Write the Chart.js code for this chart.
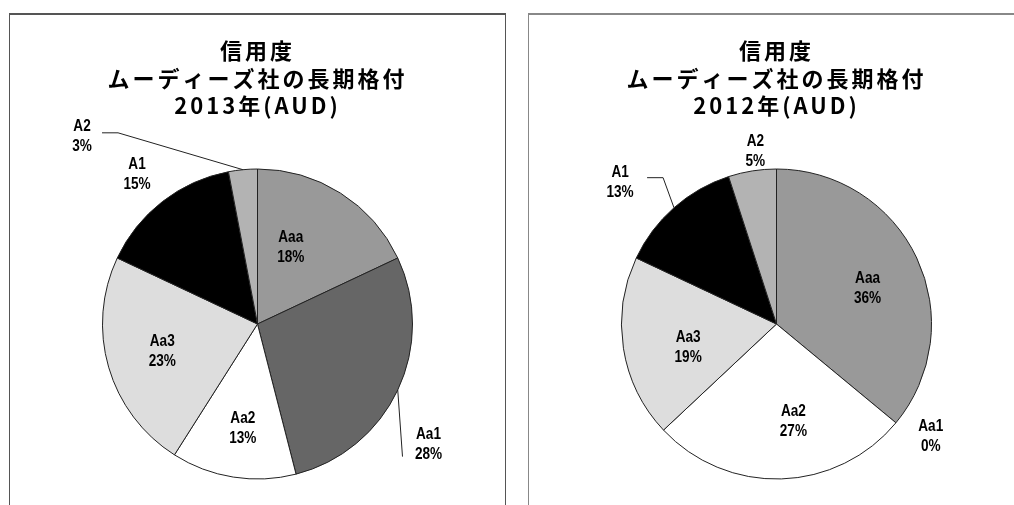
<!DOCTYPE html>
<html>
<head>
<meta charset="utf-8">
<script src="https://cdn.jsdelivr.net/npm/chart.js@4.4.0/dist/chart.umd.min.js"></script>
<style>
html, body { margin: 0; padding: 0; background: #fff; width: 1014px; height: 505px; overflow: hidden; }
.box { position: absolute; top: 13px; height: 500px; border: 1px solid #555; border-bottom: none; box-sizing: border-box; }
#box1 { left: 9px; width: 497px; border-top-width: 2px; }
#box2 { left: 528px; width: 497px; border-color: #888; border-top-width: 2px; }
canvas { position: absolute; left: 0; top: 0; }
</style>
</head>
<body>
<div class="box" id="box1"><canvas id="pie2013" width="495" height="491"></canvas></div>
<div class="box" id="box2"><canvas id="pie2012" width="495" height="491"></canvas></div>
<script>
// data
const categories = ['Aaa', 'Aa1', 'Aa2', 'Aa3', 'A1', 'A2'];
const share2013 = [18, 28, 13, 23, 15, 3];
const share2012 = [36, 0, 27, 19, 13, 5];
const title2013 = ['信用度', 'ムーディーズ社の長期格付', '2013年(AUD)'];
const title2012 = ['信用度', 'ムーディーズ社の長期格付', '2012年(AUD)'];

const sliceColors = ['#999999', '#666666', '#ffffff', '#dddddd', '#000000', '#b3b3b3'];

// where each label sits: angle shift from the slice middle (deg) and radius factor
const labels2013 = [
    {da: -9, r: 0.54},
    {da: 10, r: 1.35, leader: {dx: -26, dy: 12, h: 0}},
    {da: -1, r: 0.68},
    {da: 0, r: 0.64},
    {da: -1, r: 1.24},
    {da: -37.6, r: 1.66, leader: {dx: 20, dy: -3, h: 16}}
];
const labels2012 = [
    {da: 4, r: 0.63},
    {da: -3.6, r: 1.23},
    {da: -8, r: 0.64},
    {da: -6, r: 0.59},
    {da: -6.5, r: 1.36, leader: {dx: 27, dy: -5, h: 16}},
    {da: 2, r: 1.12}
];

//label + leader line plugin
const pieLabels = {
    id: 'pieLabels',
    beforeDraw(chart) {
        // wider title spacing like the original
        chart.ctx.letterSpacing = '3px';
    },
    beforeDatasetsDraw(chart) {
        chart.ctx.letterSpacing = '0px';
    },
    afterDatasetsDraw(chart, args, opts) {
        const ctx = chart.ctx;
        const values = chart.data.datasets[0].data;
        const total = values.reduce((a, b) => a + b, 0);
        chart.getDatasetMeta(0).data.forEach((arc, i) => {
            const p = opts.layout[i];
            const {x, y, startAngle, endAngle, outerRadius} =
                arc.getProps(['x', 'y', 'startAngle', 'endAngle', 'outerRadius'], true);
            const mid = (startAngle + endAngle) / 2;
            const a = mid + p.da * Math.PI / 180;
            const lx = x + Math.cos(a) * outerRadius * p.r;
            const ly = y + Math.sin(a) * outerRadius * p.r;

            if (p.leader) {
                const ex = lx + p.leader.dx, ey = ly + p.leader.dy;
                const side = Math.sign(p.leader.dx) || 1;
                ctx.save();
                ctx.strokeStyle = '#222';
                ctx.lineWidth = 1;
                ctx.beginPath();
                ctx.moveTo(x + Math.cos(mid) * outerRadius, y + Math.sin(mid) * outerRadius);
                ctx.lineTo(ex + side * p.leader.h, ey);
                ctx.lineTo(ex, ey);
                ctx.stroke();
                ctx.restore();
            }

            ctx.save();
            ctx.translate(lx, ly);
            ctx.scale(0.8, 1);
            ctx.font = 'bold 17px "Liberation Sans", Arial, sans-serif';
            ctx.fillStyle = '#000';
            ctx.textAlign = 'center';
            ctx.textBaseline = 'middle';
            ctx.fillText(chart.data.labels[i], 0, -10);
            ctx.fillText(Math.round(values[i] / total * 100) + '%', 0, 10);
            ctx.restore();
        });
    }
};

function makePie(id, values, title, layout) {
    return new Chart(document.getElementById(id), {
        type: 'pie',
        data: {
            labels: categories,
            datasets: [{
                data: values,
                backgroundColor: sliceColors,
                borderColor: '#222',
                borderWidth: 1
            }]
        },
        options: {
            responsive: false,
            animation: false,
            radius: 155,
            layout: {padding: {top: 0, bottom: 10, left: 0, right: 0}},
            plugins: {
                legend: {display: false},
                tooltip: {enabled: false},
                title: {
                    display: true,
                    text: title,
                    color: '#000',
                    font: {family: '"Noto Sans CJK JP", sans-serif', size: 22, weight: 'bold', lineHeight: '27.5px'},
                    padding: {top: 22, bottom: 32.5}
                },
                pieLabels: {layout: layout}
            }
        },
        plugins: [pieLabels]
    });
}

makePie('pie2013', share2013, title2013, labels2013);
makePie('pie2012', share2012, title2012, labels2012);
</script>
</body>
</html>
